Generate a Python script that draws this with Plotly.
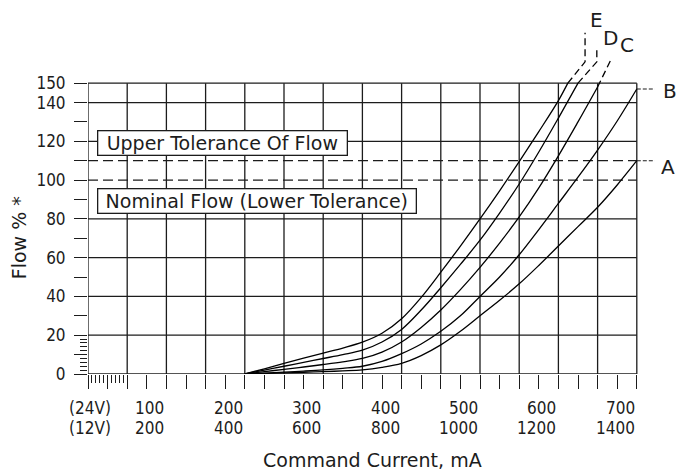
import plotly.graph_objects as go

# Command current (24 V scale, mA) vs flow (%) for each curve
current_a = [200, 225, 250, 275, 300, 325, 350, 375, 400, 425, 450, 475, 500, 525, 550, 575, 600, 625, 650, 675, 700]
flow_a = [0, 0.3, 0.6, 0.9, 1.2, 1.6, 2.1, 3.4, 5.5, 9.5, 15, 22, 30, 38, 46.5, 56, 66, 76, 86, 97.5, 110]

current_b = [200, 225, 250, 275, 300, 325, 350, 375, 400, 425, 450, 475, 500, 525, 550, 575, 600, 625, 650, 675, 700]
flow_b = [0, 0.5, 1.0, 1.5, 2.1, 2.9, 4.0, 6.5, 10.5, 15.5, 22, 30, 40, 50, 61.5, 74.5, 88, 101.5, 115.5, 130.5, 147]

current_c = [200, 225, 250, 275, 300, 325, 350, 375, 400, 425, 450, 475, 500, 525, 550, 575, 600, 625, 650]
flow_c = [0, 1.2, 2.4, 3.6, 4.9, 6.3, 8, 11.3, 16.5, 24, 33, 43.5, 55, 67.5, 81, 96, 112.5, 130, 148]

current_d = [200, 225, 250, 275, 300, 325, 350, 375, 400, 425, 450, 475, 500, 525, 550, 575, 600, 625]
flow_d = [0, 2, 4, 6, 8, 10, 12.3, 16.5, 23, 33, 44.5, 56.5, 69, 83, 98, 114.5, 132, 150]

current_e = [200, 225, 250, 275, 300, 325, 350, 375, 400, 425, 450, 475, 500, 525, 550, 575, 600, 612]
flow_e = [0, 2.7, 5.5, 8.2, 10.8, 13.4, 16.4, 21, 28.5, 39.5, 52.5, 66, 80, 94.5, 109.5, 125, 141, 150]

# dashed run-outs of C, D, E above the 150 % line
runout_c_x = [650, 668]
runout_c_y = [148, 163]
runout_d_x = [625, 649, 649]
runout_d_y = [150, 161, 167]
runout_e_x = [612, 634, 634]
runout_e_y = [150, 161, 176]

# leader dashes to the A / B labels
leader_x = [700, 723]
leader_a_y = [110, 110]
leader_b_y = [147, 147]

grid_x = list(range(0, 701, 50))
grid_y_solid = [0, 20, 40, 60, 80, 120, 140, 150]
grid_y_dashed = [100, 110]

y_ticks = list(range(0, 151, 10))
y_labelled = [0, 20, 40, 60, 80, 100, 120, 140, 150]

x_pos = [0, 100, 200, 300, 400, 500, 600, 700]
labels_24v = ["(24V)", "100", "200", "300", "400", "500", "600", "700"]
labels_12v = ["(12V)", "200", "400", "600", "800", "1000", "1200", "1400"]

X_MAX = 750
Y_MAX = 180
INK = "#1c1c1c"
NARROW = "DejaVu Sans Condensed, Liberation Sans Narrow, sans-serif"
SANS = "DejaVu Sans, Arial, sans-serif"


def px(v):
    return v / X_MAX


def py(v):
    return v / Y_MAX


fig = go.Figure()

# grid
vx, vy = [], []
for g in grid_x:
    vx += [g, g, None]
    vy += [0, 150, None]
fig.add_trace(go.Scatter(x=vx, y=vy, mode="lines", line=dict(color=INK, width=1.3), hoverinfo="skip"))

hx, hy = [], []
for g in grid_y_solid:
    hx += [0, 700, None]
    hy += [g, g, None]
fig.add_trace(go.Scatter(x=hx, y=hy, mode="lines", line=dict(color=INK, width=1.3), hoverinfo="skip"))

dx, dy = [], []
for g in grid_y_dashed:
    dx += [0, 700, None]
    dy += [g, g, None]
fig.add_trace(go.Scatter(x=dx, y=dy, mode="lines", line=dict(color=INK, width=1.2, dash="10px,5px"),
                         hoverinfo="skip"))

# curves
for cx, cy in [(current_a, flow_a), (current_b, flow_b), (current_c, flow_c),
               (current_d, flow_d), (current_e, flow_e)]:
    fig.add_trace(go.Scatter(x=cx, y=cy, mode="lines", line=dict(color="black", width=1.3, shape="spline"),
                             hoverinfo="skip"))

for rx, ry in [(runout_c_x, runout_c_y), (runout_d_x, runout_d_y), (runout_e_x, runout_e_y)]:
    fig.add_trace(go.Scatter(x=rx, y=ry, mode="lines", line=dict(color="black", width=1.3, dash="7px,4px"),
                             hoverinfo="skip"))

for ly in [leader_a_y, leader_b_y]:
    fig.add_trace(go.Scatter(x=leader_x, y=ly, mode="lines", line=dict(color=INK, width=1.1, dash="4px,2px"),
                             hoverinfo="skip"))

# page has an 8px body margin, so the figure is 8px smaller than the window
fig.update_layout(
    width=678, height=467,
    margin=dict(l=80, r=10, t=17, b=101),
    paper_bgcolor="white", plot_bgcolor="white",
    showlegend=False,
    xaxis=dict(range=[0, X_MAX], showgrid=False, zeroline=False, showline=False,
               tickmode="array", tickvals=list(range(0, 701, 25)), showticklabels=False,
               ticks="outside", ticklen=14, tickwidth=1.3, tickcolor=INK,
               minor=dict(tickmode="array", tickvals=[5, 10, 15, 20, 30, 35, 40, 45],
                          ticks="outside", ticklen=8, tickwidth=1, tickcolor=INK)),
    yaxis=dict(range=[0, Y_MAX], showgrid=False, zeroline=False, showline=False,
               tickmode="array", tickvals=y_ticks,
               ticktext=[str(v) if v in y_labelled else "" for v in y_ticks],
               ticks="outside", ticklen=13, tickwidth=1.3, tickcolor=INK, ticklabelstandoff=5,
               tickfont=dict(family=NARROW, size=17, color=INK),
               minor=dict(tickmode="array", tickvals=[2, 4, 6, 8, 12, 14, 16, 18],
                          ticks="outside", ticklen=7, tickwidth=1, tickcolor=INK)),
)

# x tick labels, two scales
for xv, top, bot in zip(x_pos, labels_24v, labels_12v):
    anchor = "center" if xv == 0 else "right"
    xa = 3 if xv == 0 else xv
    fig.add_annotation(x=xa, xref="x", y=py(-17.5), yref="paper", text=top, showarrow=False,
                       xanchor=anchor, yanchor="middle", font=dict(family=NARROW, size=17, color=INK))
    fig.add_annotation(x=xa, xref="x", y=py(-28), yref="paper", text=bot, showarrow=False,
                       xanchor=anchor, yanchor="middle", font=dict(family=NARROW, size=17, color=INK))

fig.add_annotation(x=363, xref="x", y=py(-44.5), yref="paper", text="Command Current, mA", showarrow=False,
                   xanchor="center", yanchor="middle", font=dict(family=SANS, size=19, color=INK))
fig.add_annotation(x=px(-88), xref="paper", y=py(70), yref="paper", text="Flow % *", showarrow=False,
                   xanchor="center", yanchor="middle", textangle=-90,
                   font=dict(family=SANS, size=19, color=INK))

# boxed notes
fig.add_annotation(x=11.5, y=119.3, text="Upper Tolerance Of Flow", showarrow=False,
                   xanchor="left", width=248, height=23, align="center",
                   bgcolor="white", bordercolor=INK, borderwidth=1.3, borderpad=0,
                   font=dict(family=SANS, size=19, color=INK))
fig.add_annotation(x=11.5, y=89.4, text="Nominal Flow (Lower Tolerance)", showarrow=False,
                   xanchor="left", width=317, height=23, align="center",
                   bgcolor="white", bordercolor=INK, borderwidth=1.3, borderpad=0,
                   font=dict(family=SANS, size=19, color=INK))

# curve letters
for name, lx, ly in [("A", 740, 107), ("B", 742, 146), ("C", 687, 169.5), ("D", 666, 173.5), ("E", 648, 182.5)]:
    fig.add_annotation(x=px(lx), xref="paper", y=py(ly), yref="paper", text=name, showarrow=False,
                       xanchor="center", yanchor="middle", height=20,
                       font=dict(family=SANS, size=20, color=INK))

fig.write_html("out.html")
